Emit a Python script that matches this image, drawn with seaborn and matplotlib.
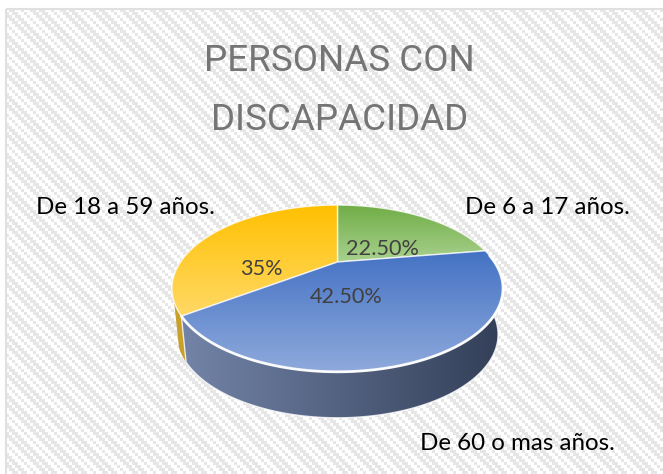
import numpy as np
import matplotlib
matplotlib.use("Agg")
import matplotlib.pyplot as plt
from matplotlib.colors import LinearSegmentedColormap, ListedColormap
from matplotlib.patches import Polygon, Rectangle
from matplotlib.transforms import Affine2D
import seaborn as sns

sns.set_theme(style="white")
plt.rcParams['font.family'] = ['Lato', 'DejaVu Sans']

title_lines = ["PERSONAS CON", "DISCAPACIDAD"]
categories = ["De 6 a 17 años.", "De 60 o mas años.", "De 18 a 59 años."]
values = [22.5, 42.5, 35.0]
value_labels = ["22.50%", "42.50%", "35%"]
top_colors = [("#70AD47", "#A9D18E"), ("#4472C4", "#8FAADC"), ("#FFC000", "#FFD966")]
wall_colors = ("#7384A8", "#333F58")
yellow_wall = "#C9A02A"

W, H = 663, 474
fig = plt.figure(figsize=(W / 100, H / 100), dpi=100, facecolor="white")
ax = fig.add_axes([0, 0, 1, 1])

# perspective of a unit circle onto the page
CX, CY, A, S, K = 337.5, 262.0, 157.0, 75.0, 0.317
DEPTH, SHRINK = 46.0, 0.97


def project(uv):
    uv = np.asarray(uv)
    w = 1 + K * uv[:, 1]
    return np.column_stack([CX + A * uv[:, 0] / w, CY - S * uv[:, 1] / w])


def extrude(xy):
    return np.column_stack([CX + (xy[:, 0] - CX) * SHRINK, xy[:, 1] + DEPTH])


def arc(a0, a1, n=120):
    t = np.radians(np.linspace(a0, a1, n))
    return np.column_stack([np.sin(t), np.cos(t)])


# the library lays out the slices; their outlines are then put in perspective
wedges, _ = ax.pie(values, startangle=90, counterclock=False, radius=1.0, center=(0, 0))
faces = []
for wedge in wedges:
    path = wedge.get_patch_transform().transform_path(wedge.get_path())
    fine = path.transformed(Affine2D().scale(2000)).to_polygons(closed_only=True)[0] / 2000
    faces.append(project(fine))
    wedge.remove()

ax.set_aspect("auto")
ax.set_xlim(0, W)
ax.set_ylim(H, 0)
ax.axis("off")

# background: stair-stepped diagonal texture inside a light border
yy, xx = np.mgrid[0:H, 0:W]
texture = (((xx // 3) * 3 - (yy // 3) * 3) % 10 < 5).astype(float)
bg = ax.imshow(texture, cmap=ListedColormap(["white", "#e6e6e6"]), extent=(0, W, H, 0),
               origin="upper", aspect="auto", zorder=0, interpolation="nearest")
bg.set_clip_path(Rectangle((6, 8.5), W, H, transform=ax.transData))
ax.add_patch(Rectangle((6, 8.5), W, H, facecolor="none", edgecolor="#e0e0e0",
                       lw=1.5, zorder=0.5))


def gradient(poly, c0, c1, horizontal=False, zorder=2, outline=True):
    cmap = LinearSegmentedColormap.from_list("g", [c0, c1])
    x0, y0 = poly.min(axis=0)
    x1, y1 = poly.max(axis=0)
    ramp = np.linspace(0, 1, 256)
    img = ramp[None, :] if horizontal else ramp[:, None]
    im = ax.imshow(img, cmap=cmap, extent=(x0, x1, y1, y0), origin="upper",
                   aspect="auto", zorder=zorder, interpolation="bilinear")
    im.set_clip_path(Polygon(poly, closed=True, transform=ax.transData))
    if outline:
        ax.add_patch(Polygon(poly, closed=True, facecolor="none", edgecolor="#fdfdfd",
                             lw=1.0, alpha=0.8, zorder=zorder + 0.1, joinstyle="round"))


bounds = np.cumsum([0] + values) * 3.6

# side walls: a short gold sliver and the long blue wall
ya = project(arc(bounds[2], bounds[2] + 9))
gradient(np.vstack([ya, extrude(ya)[::-1]]), yellow_wall, yellow_wall, zorder=1, outline=False)
ba = project(arc(bounds[1], bounds[2]))
gradient(np.vstack([ba, extrude(ba)[::-1]]), *wall_colors, horizontal=True, zorder=1.5)

for poly, (c0, c1), z in zip(faces, top_colors, (2, 2.6, 2.3)):
    gradient(poly, c0, c1, zorder=z)

# white rim under the front of the top face
rim = project(arc(bounds[0] + 85, bounds[2]))
ax.plot(rim[:, 0], rim[:, 1], color="white", lw=2.0, alpha=0.9, zorder=3)

for (x, y), s in zip([(382, 249), (346, 297), (261, 269)], value_labels):
    ax.text(x, y, s, ha="center", va="center", fontsize=15.6, color="#404040", zorder=5)

for (x, y), s in zip([(547.5, 207), (517.5, 443), (125.5, 207)], categories):
    ax.text(x, y, s, ha="center", va="center", fontsize=17.4, color="black", zorder=5)

for (x, y), s in zip([(339.5, 61), (339.5, 120)], title_lines):
    ax.text(x, y, s, ha="center", va="center", fontsize=26.5, color="#757575",
            family=['Roboto', 'Lato'], zorder=5)

fig.savefig("out.png", dpi=100)
